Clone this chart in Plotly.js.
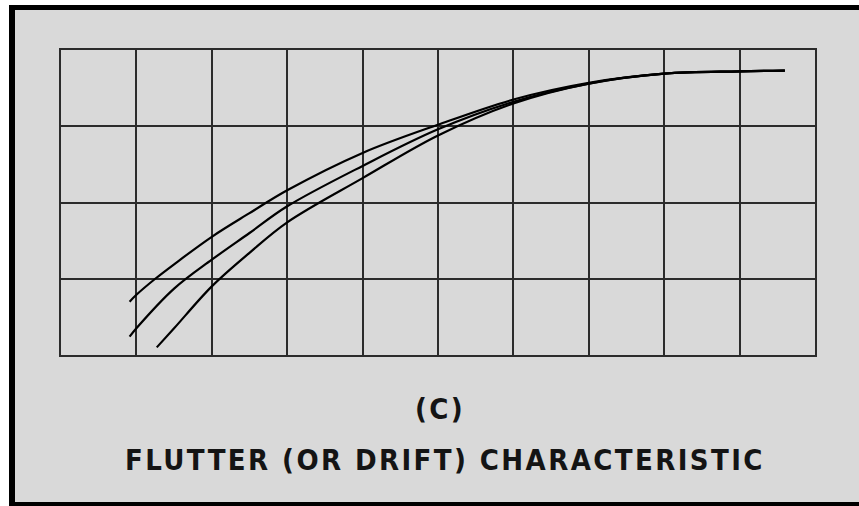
<!DOCTYPE html>
<html>
<head>
<meta charset="utf-8">
<script src="https://cdn.plot.ly/plotly-3.0.1.min.js"></script>
<style>
  html, body { margin: 0; padding: 0; background: #ffffff; }
  #chart { width: 859px; height: 506px; }
  .annotation-text { letter-spacing: 2.4px; font-stretch: condensed !important; }
</style>
</head>
<body>
<div id="chart"></div>
<script>
// Three flutter (drift) characteristic curves, grid units (10 x 4 divisions)
const topX = [0.91, 1.0, 1.25, 1.5, 2.0, 2.5, 3.0, 4.0, 5.0, 6.0, 7.0, 8.0, 9.0, 9.6];
const topY = [0.70, 0.79, 1.0, 1.19, 1.55, 1.86, 2.16, 2.65, 3.02, 3.35, 3.57, 3.69, 3.72, 3.73];

const midX = [0.91, 1.0, 1.5, 2.0, 2.5, 3.0, 4.0, 5.0, 6.0, 7.0, 8.0, 9.0, 9.6];
const midY = [0.24, 0.35, 0.87, 1.25, 1.60, 1.95, 2.48, 2.96, 3.32, 3.56, 3.69, 3.72, 3.73];

const lowX = [1.27, 1.5, 2.0, 2.5, 3.0, 4.0, 5.0, 6.0, 7.0, 8.0, 9.0, 9.6];
const lowY = [0.10, 0.35, 0.90, 1.34, 1.74, 2.32, 2.88, 3.30, 3.56, 3.69, 3.72, 3.73];

const captionLabel = "(C)";
const captionTitle = "FLUTTER (OR DRIFT) CHARACTERISTIC";

function curve(x, y) {
  return {
    x: x, y: y, type: 'scatter', mode: 'lines',
    line: { color: '#000000', width: 2.2, shape: 'spline', smoothing: 1 },
    hoverinfo: 'skip', showlegend: false
  };
}

const data = [curve(topX, topY), curve(midX, midY), curve(lowX, lowY)];

const W = 754, H = 305, L = 61, T = 50;
const px = v => (v - L) / W;
const py = v => (T + H - v) / H;

const axisCommon = {
  showgrid: true, gridcolor: '#2b2b2b', gridwidth: 2,
  showline: true, linecolor: '#2b2b2b', linewidth: 2, mirror: true,
  zeroline: false, showticklabels: false, ticks: '', fixedrange: true
};

const textFont = { family: 'DejaVu Sans, sans-serif', size: 29, color: '#141414', weight: 'bold' };

const layout = {
  width: 859, height: 506,
  margin: { l: 61, r: 44, t: 50, b: 151 },
  paper_bgcolor: '#d9d9d9',
  plot_bgcolor: '#d9d9d9',
  xaxis: Object.assign({ range: [0, 10], dtick: 1, tick0: 0 }, axisCommon),
  yaxis: Object.assign({ range: [0, 4], dtick: 1, tick0: 0 }, axisCommon),
  shapes: [
    { type: 'rect', xref: 'paper', yref: 'paper', x0: px(0), x1: px(9), y0: py(506), y1: py(0), fillcolor: '#ffffff', line: { width: 0 } },
    { type: 'rect', xref: 'paper', yref: 'paper', x0: px(0), x1: px(859), y0: py(5), y1: py(0), fillcolor: '#ffffff', line: { width: 0 } },
    { type: 'rect', xref: 'paper', yref: 'paper', x0: px(9), x1: px(15), y0: py(506), y1: py(5), fillcolor: '#000000', line: { width: 0 } },
    { type: 'rect', xref: 'paper', yref: 'paper', x0: px(9), x1: px(859), y0: py(10), y1: py(5), fillcolor: '#000000', line: { width: 0 } },
    { type: 'rect', xref: 'paper', yref: 'paper', x0: px(9), x1: px(859), y0: py(506), y1: py(502), fillcolor: '#000000', line: { width: 0 } }
  ],
  annotations: [
    { text: captionLabel, xref: 'paper', yref: 'paper', x: px(440), y: py(409), xanchor: 'center', yanchor: 'middle', showarrow: false, font: textFont },
    { text: captionTitle, xref: 'paper', yref: 'paper', x: px(445), y: py(460), xanchor: 'center', yanchor: 'middle', showarrow: false, font: textFont }
  ]
};

Plotly.newPlot('chart', data, layout, { displayModeBar: false, staticPlot: true });
</script>
</body>
</html>
